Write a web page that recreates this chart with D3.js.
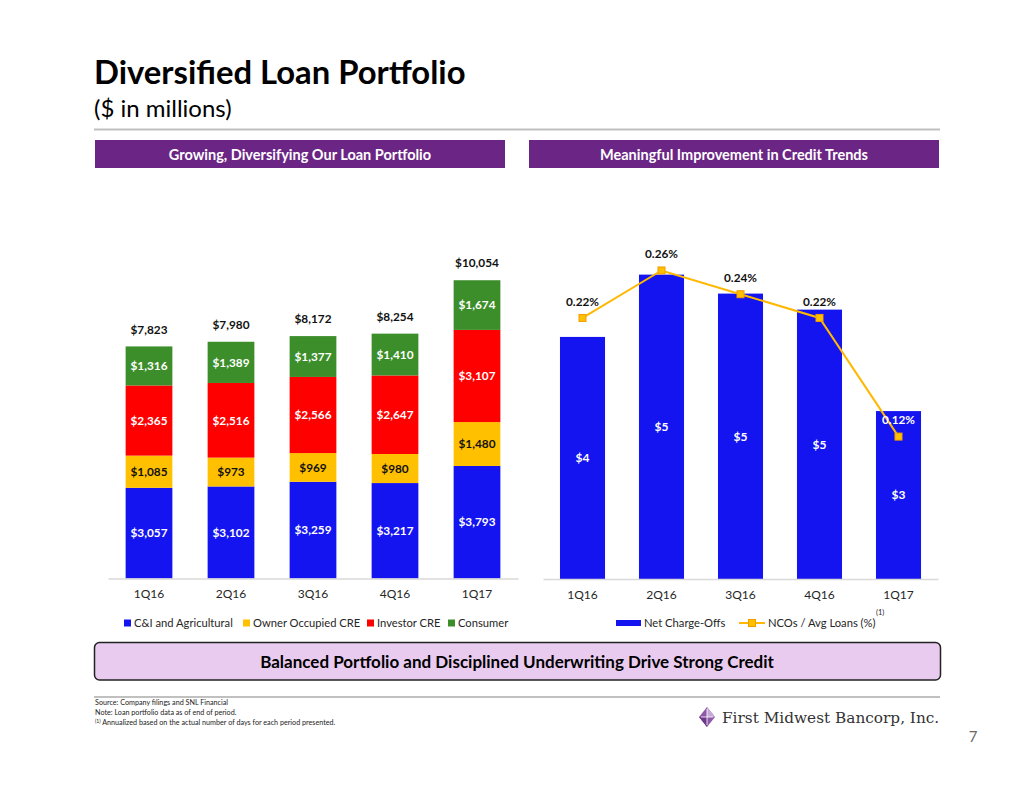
<!DOCTYPE html>
<html>
<head>
<meta charset="utf-8">
<script src="https://cdn.jsdelivr.net/npm/d3@7"></script>
<style>
  html, body { margin: 0; padding: 0; background: #fff; }
  svg { display: block; font-family: Lato, "Open Sans", sans-serif; }
</style>
</head>
<body>
<svg id="chart" width="1034" height="799"></svg>
<script>
// ---------- DATA ----------
const categories = ["1Q16", "2Q16", "3Q16", "4Q16", "1Q17"];
const ciAgricultural = [3057, 3102, 3259, 3217, 3793];
const ownerOccupiedCRE = [1085, 973, 969, 980, 1480];
const investorCRE = [2365, 2516, 2566, 2647, 3107];
const consumer = [1316, 1389, 1377, 1410, 1674];
const loanTotals = [7823, 7980, 8172, 8254, 10054];
const netChargeOffs = [4.08, 5.13, 4.81, 4.54, 2.83];
const ncoPct = [0.22, 0.26, 0.24, 0.22, 0.12];
const loanSeriesNames = ["C&I and Agricultural", "Owner Occupied CRE", "Investor CRE", "Consumer"];
const loanSeriesColors = ["#1414F0", "#FFC000", "#FF0000", "#3C8E2A"];
const loanLabelColors = ["#ffffff", "#111111", "#ffffff", "#ffffff"];

const svg = d3.select("#chart");
const purple = "#6B2585";
const fmtComma = d3.format(",");

// ---------- TITLE ----------
svg.append("text").attr("x", 94).attr("y", 84)
  .attr("font-size", 32.8).attr("font-weight", 700).attr("fill", "#000")
  .text("Diversified Loan Portfolio");
svg.append("text").attr("x", 94).attr("y", 117)
  .attr("font-size", 24).attr("fill", "#000")
  .text("($ in millions)");
svg.append("line").attr("x1", 94).attr("x2", 940).attr("y1", 129.5).attr("y2", 129.5)
  .attr("stroke", "#c0c0c0").attr("stroke-width", 2);

// ---------- SECTION HEADERS ----------
const headers = [
  {x0: 95, x1: 505, text: "Growing, Diversifying Our Loan Portfolio"},
  {x0: 529, x1: 939, text: "Meaningful Improvement in Credit Trends"}
];
headers.forEach(h => {
  svg.append("rect").attr("x", h.x0).attr("y", 140).attr("width", h.x1 - h.x0).attr("height", 28)
    .attr("fill", purple);
  svg.append("text").attr("x", (h.x0 + h.x1) / 2).attr("y", 159.5)
    .attr("text-anchor", "middle").attr("font-size", 14.5).attr("font-weight", 700)
    .attr("fill", "#fff").text(h.text);
});

// ---------- LEFT CHART (stacked bars) ----------
const plotTop = 222.5, plotBottom = 578.5;
const xL = d3.scaleBand().domain(categories).range([108, 518]).paddingInner(0.43).paddingOuter(0.215);
const yL = d3.scaleLinear().domain([0, 12000]).range([plotBottom, plotTop]);

const loanSeries = [ciAgricultural, ownerOccupiedCRE, investorCRE, consumer];
const stackRows = categories.map((c, i) => {
  const row = {cat: c};
  loanSeriesNames.forEach((n, k) => row[n] = loanSeries[k][i]);
  return row;
});
const stacked = d3.stack().keys(loanSeriesNames)(stackRows);

const gL = svg.append("g");
stacked.forEach((layer, k) => {
  const g = gL.append("g");
  g.selectAll("rect").data(layer).join("rect")
    .attr("x", d => xL(d.data.cat))
    .attr("y", d => yL(d[1]))
    .attr("width", xL.bandwidth())
    .attr("height", d => yL(d[0]) - yL(d[1]))
    .attr("fill", loanSeriesColors[k]);
  g.selectAll("text").data(layer).join("text")
    .attr("x", d => xL(d.data.cat) + xL.bandwidth() / 2)
    .attr("y", d => (yL(d[0]) + yL(d[1])) / 2)
    .attr("dy", "0.36em")
    .attr("text-anchor", "middle").attr("font-size", 11.8).attr("font-weight", 700)
    .attr("fill", loanLabelColors[k])
    .text(d => "$" + fmtComma(d[1] - d[0]));
});
gL.selectAll("text.total").data(categories).join("text").attr("class", "total")
  .attr("x", c => xL(c) + xL.bandwidth() / 2)
  .attr("y", (c, i) => yL(loanTotals[i]) - 17)
  .attr("dy", "0.36em")
  .attr("text-anchor", "middle").attr("font-size", 11.8).attr("font-weight", 700).attr("fill", "#111")
  .text((c, i) => "$" + fmtComma(loanTotals[i]));

const axL = svg.append("g").attr("transform", `translate(0,${plotBottom})`)
  .call(d3.axisBottom(xL).tickSize(0).tickSizeOuter(0).tickPadding(11));
axL.select(".domain").attr("stroke", "#d9d9d9").attr("stroke-width", 1.5);
axL.selectAll("text").attr("font-size", 12).attr("fill", "#262626").attr("font-family", "Lato, sans-serif");

// left legend
const legL = svg.append("g");
const legLx = [124, 243, 367, 448];
loanSeriesNames.forEach((n, k) => {
  legL.append("rect").attr("x", legLx[k]).attr("y", 619.5).attr("width", 7).attr("height", 7)
    .attr("fill", loanSeriesColors[k]);
  legL.append("text").attr("x", legLx[k] + 10).attr("y", 623).attr("dy", "0.36em")
    .attr("font-size", 11.2).attr("fill", "#262626").text(n);
});

// ---------- RIGHT CHART (bars + line) ----------
const xR = d3.scaleBand().domain(categories).range([543, 938]).paddingInner(0.43).paddingOuter(0.215);
const yR = d3.scaleLinear().domain([0, 6]).range([579, 223]);
const yR2 = d3.scaleLinear().domain([0, 0.30]).range([579, 223]);
const barBlue = "#1414F0";
const lineColor = "#FFB800";

const gR = svg.append("g");
gR.selectAll("rect.nco").data(categories).join("rect").attr("class", "nco")
  .attr("x", c => xR(c))
  .attr("y", (c, i) => yR(netChargeOffs[i]))
  .attr("width", xR.bandwidth())
  .attr("height", (c, i) => yR(0) - yR(netChargeOffs[i]))
  .attr("fill", barBlue);
gR.selectAll("text.ncol").data(categories).join("text").attr("class", "ncol")
  .attr("x", c => xR(c) + xR.bandwidth() / 2)
  .attr("y", (c, i) => (yR(0) + yR(netChargeOffs[i])) / 2)
  .attr("dy", "0.36em")
  .attr("text-anchor", "middle").attr("font-size", 12).attr("font-weight", 700).attr("fill", "#fff")
  .text((c, i) => "$" + d3.format(".0f")(netChargeOffs[i]));

const line = d3.line()
  .x((d, i) => xR(categories[i]) + xR.bandwidth() / 2)
  .y(d => yR2(d));
gR.append("path").datum(ncoPct).attr("d", line)
  .attr("fill", "none").attr("stroke", lineColor).attr("stroke-width", 2);
gR.selectAll("rect.mk").data(ncoPct).join("rect").attr("class", "mk")
  .attr("x", (d, i) => xR(categories[i]) + xR.bandwidth() / 2 - 3.5)
  .attr("y", d => yR2(d) - 3.5)
  .attr("width", 7).attr("height", 7)
  .attr("fill", "#FFC000").attr("stroke", "#F39C00").attr("stroke-width", 1);
gR.selectAll("text.pct").data(ncoPct).join("text").attr("class", "pct")
  .attr("x", (d, i) => xR(categories[i]) + xR.bandwidth() / 2)
  .attr("y", d => yR2(d) - 16.5)
  .attr("dy", "0.36em")
  .attr("text-anchor", "middle").attr("font-size", 11.8).attr("font-weight", 700)
  .attr("fill", (d, i) => yR2(d) - 16.5 > yR(netChargeOffs[i]) ? "#fff" : "#111")
  .text(d => d3.format(".2f")(d) + "%");

const axR = svg.append("g").attr("transform", `translate(0,579)`)
  .call(d3.axisBottom(xR).tickSize(0).tickSizeOuter(0).tickPadding(11));
axR.select(".domain").attr("stroke", "#d9d9d9").attr("stroke-width", 1.5);
axR.selectAll("text").attr("font-size", 12).attr("fill", "#262626").attr("font-family", "Lato, sans-serif");

// right legend
const legR = svg.append("g");
legR.append("rect").attr("x", 616).attr("y", 620).attr("width", 25).attr("height", 6).attr("fill", barBlue);
legR.append("text").attr("x", 644).attr("y", 623).attr("dy", "0.36em")
  .attr("font-size", 11.2).attr("fill", "#262626").text("Net Charge-Offs");
legR.append("line").attr("x1", 739).attr("x2", 765).attr("y1", 623).attr("y2", 623)
  .attr("stroke", lineColor).attr("stroke-width", 2);
legR.append("rect").attr("x", 748.5).attr("y", 619.5).attr("width", 7).attr("height", 7)
  .attr("fill", "#FFC000").attr("stroke", "#F39C00").attr("stroke-width", 1);
legR.append("text").attr("x", 768).attr("y", 623).attr("dy", "0.36em")
  .attr("font-size", 11.2).attr("fill", "#262626").text("NCOs / Avg Loans (%)");
legR.append("text").attr("x", 876).attr("y", 612).attr("dy", "0.36em")
  .attr("font-size", 7.5).attr("fill", "#262626").text("(1)");

// ---------- BOTTOM BOX ----------
svg.append("rect").attr("x", 94.5).attr("y", 642.5).attr("width", 846).attr("height", 37.5)
  .attr("rx", 5).attr("ry", 5)
  .attr("fill", "#E9CBF0").attr("stroke", "#222").attr("stroke-width", 1.5);
svg.append("text").attr("x", 517).attr("y", 661.5).attr("dy", "0.36em")
  .attr("text-anchor", "middle").attr("font-size", 17).attr("font-weight", 700).attr("fill", "#000")
  .text("Balanced Portfolio and Disciplined Underwriting Drive Strong Credit");

svg.append("line").attr("x1", 94).attr("x2", 940).attr("y1", 697).attr("y2", 697)
  .attr("stroke", "#c0c0c0").attr("stroke-width", 2);

// ---------- FOOTNOTES ----------
const foot = svg.append("g").attr("font-size", 7.2).attr("fill", "#222");
foot.append("text").attr("x", 95).attr("y", 704.5).text("Source: Company filings and SNL Financial");
foot.append("text").attr("x", 95).attr("y", 714.5).text("Note: Loan portfolio data as of end of period.");
const fn = foot.append("text").attr("x", 95).attr("y", 724.5);
fn.append("tspan").attr("font-size", 5).attr("dy", -2).text("(1)");
fn.append("tspan").attr("dy", 2).text(" Annualized based on the actual number of days for each period presented.");

// ---------- LOGO ----------
const logo = svg.append("g").attr("transform", "translate(707,717)");
logo.append("path").attr("d", "M0,-10 L8,0 L0,10 L-8,0 Z").attr("fill", "#8E5AA8");
logo.append("path").attr("d", "M0,-10 L8,0 L0,0 Z").attr("fill", "#C8A8D8");
logo.append("path").attr("d", "M-8,0 L0,0 L0,10 Z").attr("fill", "#6D3A8A");
logo.append("line").attr("x1", -6).attr("x2", 6).attr("y1", 0).attr("y2", 0).attr("stroke", "#fff").attr("stroke-width", 0.8);
logo.append("line").attr("x1", 0).attr("x2", 0).attr("y1", -8).attr("y2", 8).attr("stroke", "#fff").attr("stroke-width", 0.8);
svg.append("text").attr("x", 722).attr("y", 723)
  .attr("font-family", "'DejaVu Serif', 'Liberation Serif', serif").attr("font-size", 15.3)
  .attr("fill", "#333").text("First Midwest Bancorp, Inc.");

// page number
svg.append("text").attr("x", 973).attr("y", 742).attr("text-anchor", "middle")
  .attr("font-size", 15).attr("fill", "#666").text("7");
</script>
</body>
</html>
